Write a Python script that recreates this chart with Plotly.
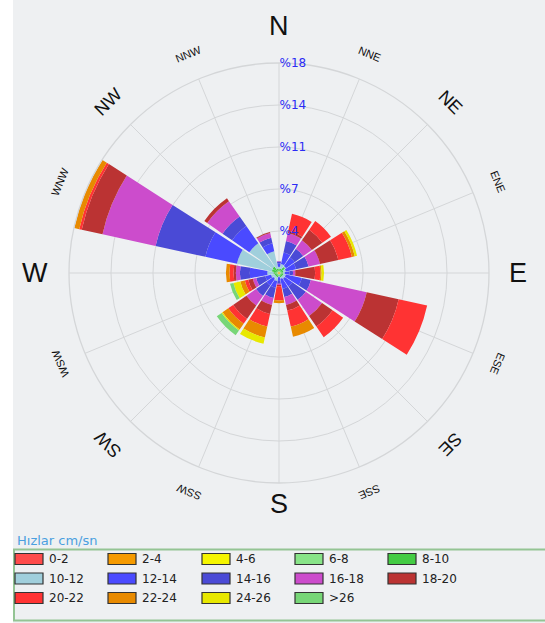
import math
import plotly.graph_objects as go

# Compass sectors (clockwise from north)
directions = ["N", "NNE", "NE", "ENE", "E", "ESE", "SE", "SSE",
              "S", "SSW", "SW", "WSW", "W", "WNW", "NW", "NNW"]

# Speed classes (cm/s) and their colours
speed_bins = ["0-2", "2-4", "4-6", "6-8", "8-10",
              "10-12", "12-14", "14-16", "16-18", "18-20",
              "20-22", "22-24", "24-26", ">26"]
bin_colors = ["#ff4b4b", "#f59a00", "#f5f500", "#88e488", "#44cc44",
              "#a0cfdc", "#4a4aff", "#4a4ad6", "#cc4ccc", "#bb3333",
              "#ff3333", "#e88a00", "#e8e800", "#77d677"]

# Frequency (%) of each speed class per direction
s0_2 = [0.04, 0.04, 0.04, 0.04, 0.04, 0.04, 0.04, 0.04, 0.04, 0.04, 0.04, 0.04, 0.04, 0.04, 0.04, 0.04]
s2_4 = [0.04, 0.04, 0.04, 0.04, 0.04, 0.04, 0.04, 0.04, 0.04, 0.04, 0.04, 0.04, 0.04, 0.04, 0.04, 0.04]
s4_6 = [0.04, 0.04, 0.04, 0.04, 0.04, 0.04, 0.04, 0.04, 0.04, 0.04, 0.04, 0.04, 0.04, 0.04, 0.04, 0.04]
s6_8 = [0.06, 0.06, 0.06, 0.06, 0.06, 0.06, 0.06, 0.06, 0.06, 0.06, 0.06, 0.06, 0.06, 0.06, 0.06, 0.06]
s8_10 = [0.20, 0.20, 0.45, 0.20, 0.20, 0.20, 0.20, 0.20, 0.05, 0.20, 0.20, 0.20, 0.30, 0.45, 0.50, 0.20]
s10_12 = [0.15, 0.42, 0.10, 0.22, 0.12, 0.22, 0.22, 0.12, 0.10, 0.32, 0.22, 0.32, 0.52, 3.06, 2.42, 1.52]
s12_14 = [0.30, 1.00, 0.90, 0.90, 0.40, 1.40, 0.80, 0.90, 0.35, 0.60, 0.70, 0.50, 1.50, 2.77, 1.80, 0.70]
s14_16 = [0.15, 1.00, 0.90, 1.10, 0.30, 0.80, 1.40, 0.70, 0.25, 0.90, 1.10, 0.80, 0.85, 4.37, 1.00, 0.50]
s16_18 = [0.05, 0.70, 0.90, 1.00, 0.20, 4.90, 1.70, 0.70, 0.10, 0.60, 1.00, 0.30, 0.35, 4.66, 1.60, 0.40]
s18_20 = [0.00, 0.20, 1.10, 1.60, 1.70, 2.80, 1.10, 0.50, 0.10, 0.80, 1.40, 0.40, 0.20, 1.82, 0.30, 0.10]
s20_22 = [0.00, 1.50, 0.90, 1.20, 0.45, 2.50, 1.10, 1.40, 1.22, 1.10, 0.50, 0.30, 0.35, 0.22, 0.00, 0.00]
s22_24 = [0.00, 0.00, 0.00, 0.25, 0.10, 0.00, 0.00, 0.90, 0.25, 0.95, 0.60, 0.40, 0.30, 0.44, 0.00, 0.00]
s24_26 = [0.00, 0.00, 0.00, 0.20, 0.21, 0.00, 0.00, 0.00, 0.00, 0.55, 0.10, 0.60, 0.00, 0.00, 0.00, 0.00]
s26_up = [0.00, 0.00, 0.00, 0.00, 0.00, 0.00, 0.00, 0.00, 0.00, 0.00, 0.50, 0.30, 0.00, 0.00, 0.00, 0.00]

series = [s0_2, s2_4, s4_6, s6_8, s8_10, s10_12, s12_14, s14_16,
          s16_18, s18_20, s20_22, s22_24, s24_26, s26_up]

# Radial ticks
radial_ticks = [3.6, 7.2, 10.8, 14.4, 18.0]
radial_text = ["%4", "%7", "%11", "%14", "%18"]

legend_title = "Hızlar cm/sn"

W, H = 545, 623
CX, CY, R = 279, 273, 210          # rose centre and outer radius (px)


def px(x):
    return x / W


def py(y):
    return 1 - y / H


fig = go.Figure()
for name, color, vals in zip(speed_bins, bin_colors, series):
    fig.add_trace(go.Barpolar(
        r=vals, theta=directions, name=name,
        marker=dict(color=color, line=dict(width=0)),
        showlegend=False,
    ))

grid = "#d4d6d8"
fig.update_layout(
    width=W, height=H,
    margin=dict(l=0, r=0, t=0, b=0),
    paper_bgcolor="white",
    plot_bgcolor="rgba(0,0,0,0)",
    polar=dict(
        domain=dict(x=[px(CX - R), px(CX + R)], y=[py(CY + R), py(CY - R)]),
        bgcolor="rgba(0,0,0,0)",
        barmode="stack",
        radialaxis=dict(
            range=[0, 18], tickvals=radial_ticks, ticktext=radial_text,
            angle=90, tickangle=90, showline=False, ticks="",
            gridcolor=grid, gridwidth=1.3,
            tickfont=dict(family="DejaVu Sans", size=12, color="#2b2bf5"),
        ),
        angularaxis=dict(
            rotation=90, direction="clockwise", showticklabels=False,
            ticks="", gridcolor=grid, gridwidth=1.3,
            showline=True, linecolor=grid, linewidth=1.3,
        ),
    ),
    font=dict(family="DejaVu Sans", color="#222222"),
)

shapes = []
annotations = []

# Panel background
shapes.append(dict(type="rect", xref="paper", yref="paper", layer="below",
                   x0=px(13), x1=1, y0=0, y1=1,
                   fillcolor="#eef0f2", line=dict(width=0)))

# Compass labels around the rose
for i, lab in enumerate(directions):
    ang = i * 22.5
    if len(lab) == 1:
        size, rad, rot = 27, {"N": 247, "E": 239, "S": 231, "W": 244}[lab], 0
    elif len(lab) == 2:
        size, rad, rot = 18, 242, ang
    else:
        size, rad, rot = 11, 237, ang
    x = CX + rad * math.sin(math.radians(ang))
    y = CY - rad * math.cos(math.radians(ang))
    annotations.append(dict(
        x=px(x), y=py(y), xref="paper", yref="paper", text=lab,
        showarrow=False, textangle=rot, xanchor="center", yanchor="middle",
        font=dict(family="Liberation Sans", size=size, color="#111111"),
    ))

# Legend block
annotations.append(dict(x=px(15), y=py(540), xref="paper", yref="paper",
                        text=legend_title, showarrow=False,
                        xanchor="left", yanchor="middle",
                        font=dict(family="DejaVu Sans", size=13, color="#4a9fe0")))
shapes.append(dict(type="rect", xref="paper", yref="paper",
                   x0=px(14), x1=px(547), y0=py(620.5), y1=py(549.5),
                   line=dict(color="#94c494", width=2), fillcolor="rgba(0,0,0,0)"))

col_x = [15, 108, 202, 295, 388]
row_y = [559, 578.5, 598]
for k, (name, color) in enumerate(zip(speed_bins, bin_colors)):
    cx0 = col_x[k % 5]
    cy0 = row_y[k // 5]
    shapes.append(dict(type="rect", xref="paper", yref="paper",
                       x0=px(cx0), x1=px(cx0 + 28), y0=py(cy0 + 5.5), y1=py(cy0 - 5.5),
                       fillcolor=color, line=dict(color="#333333", width=1.2)))
    annotations.append(dict(x=px(cx0 + 32), y=py(cy0), xref="paper", yref="paper",
                            text=name, showarrow=False, xanchor="left", yanchor="middle",
                            font=dict(family="DejaVu Sans", size=12, color="#222222")))

fig.update_layout(shapes=shapes, annotations=annotations)
fig.write_html("out.html")
